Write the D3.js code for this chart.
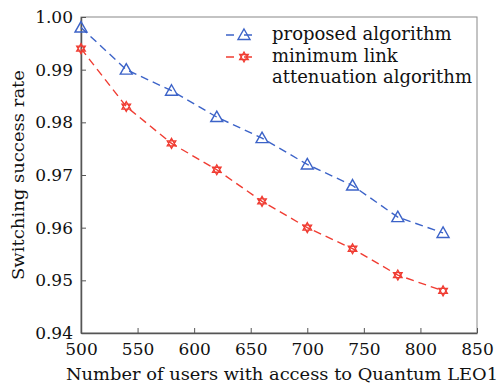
<!DOCTYPE html>
<html>
<head>
<meta charset="utf-8">
<script src="https://cdn.jsdelivr.net/npm/d3@7"></script>
<style>
  body { margin: 0; background: #fff; }
</style>
</head>
<body>
<svg id="chart"></svg>
<script>
var users = [500, 540, 580, 620, 660, 700, 740, 780, 820],
    proposed = [0.998, 0.990, 0.986, 0.981, 0.977, 0.972, 0.968, 0.962, 0.959],
    minLink = [0.994, 0.983, 0.976, 0.971, 0.965, 0.960, 0.956, 0.951, 0.948],
    xTicks = [500, 550, 600, 650, 700, 750, 800, 850],
    yTicks = [0.94, 0.95, 0.96, 0.97, 0.98, 0.99, 1.00]

var serif = "DejaVu Serif, serif"

var width = 500,
    height = 386,
    margin = {left: 81, top: 17, right: 23, bottom: 53},
    svg = d3.select("#chart")
      .attr("width", width)
      .attr("height", height)
      .attr("font-family", serif)

var x = d3.scaleLinear().domain([500, 850]).range([margin.left, width - margin.right]),
    y = d3.scaleLinear().domain([0.94, 1.00]).range([height - margin.bottom, margin.top])

var axisColor = "#555"

// frame
svg.append("rect")
  .attr("x", x(500)).attr("y", y(1))
  .attr("width", x(850) - x(500)).attr("height", y(0.94) - y(1))
  .attr("fill", "none").attr("stroke", "#888").attr("stroke-width", 1)

var xAxis = svg.append("g")
  .attr("transform", `translate(0,${y(0.94)})`)
  .call(d3.axisBottom(x).tickValues(xTicks).tickSizeInner(-5).tickSizeOuter(0).tickPadding(10))
xAxis.attr("font-family", serif).attr("font-size", 17)
xAxis.select(".domain").attr("stroke", axisColor).attr("stroke-width", 1.5)
xAxis.selectAll(".tick line").attr("stroke", axisColor)
xAxis.selectAll("text").attr("fill", "#111").attr("dy", "0.71em")

var yAxis = svg.append("g")
  .attr("transform", `translate(${x(500)},0)`)
  .call(d3.axisLeft(y).tickValues(yTicks).tickFormat(d3.format(".2f"))
          .tickSizeInner(-5).tickSizeOuter(0).tickPadding(8))
yAxis.attr("font-family", serif).attr("font-size", 17)
yAxis.select(".domain").attr("stroke", axisColor).attr("stroke-width", 1.5)
yAxis.selectAll(".tick line").attr("stroke", axisColor)
yAxis.selectAll("text").attr("fill", "#111")

svg.append("text")
  .attr("x", (x(500) + x(850)) / 2 + 3).attr("y", 380)
  .attr("text-anchor", "middle").attr("font-size", 17.5).attr("fill", "#111")
  .attr("textLength", 432).attr("lengthAdjust", "spacingAndGlyphs")
  .text("Number of users with access to Quantum LEO1")

svg.append("text")
  .attr("transform", `translate(24,${(y(0.94) + y(1)) / 2}) rotate(-90)`)
  .attr("text-anchor", "middle").attr("font-size", 17.5).attr("fill", "#111")
  .attr("textLength", 210).attr("lengthAdjust", "spacingAndGlyphs")
  .text("Switching success rate")

var series = [
  {name: "proposed", values: proposed, color: "#3c63c8", marker: "triangle"},
  {name: "minLink", values: minLink, color: "#f03c32", marker: "star"}
]

var line = d3.line().x((d) => x(d[0])).y((d) => y(d[1]))

function drawMarker(g, type, color) {
  if (type === "triangle") {
    g.append("path")
      .attr("d", "M0,-6L6,4.5L-6,4.5Z")
      .attr("fill", "none").attr("stroke", color).attr("stroke-width", 1.4)
  } else {
    g.append("path")
      .attr("d", "M0,-5L4.3,2.5L-4.3,2.5Z M0,5L4.3,-2.5L-4.3,-2.5Z")
      .attr("fill", "none").attr("stroke", color).attr("stroke-width", 1.3)
  }
}

series.forEach((s) => {
  var pts = users.map((u, i) => [u, s.values[i]])
  svg.append("path")
    .datum(pts)
    .attr("d", line)
    .attr("fill", "none")
    .attr("stroke", s.color)
    .attr("stroke-width", 1.4)
    .attr("stroke-dasharray", "8,5")
  svg.append("g").selectAll("g")
    .data(pts)
    .enter().append("g")
      .attr("transform", (d) => `translate(${x(d[0])},${y(d[1])})`)
      .each(function() { drawMarker(d3.select(this), s.marker, s.color) })
})

// legend
var legend = [
  {lines: ["proposed algorithm"], color: "#3c63c8", marker: "triangle", y: 35},
  {lines: ["minimum link", "attenuation algorithm"], color: "#f03c32", marker: "star", y: 57}
]
legend.forEach((l) => {
  svg.append("line")
    .attr("x1", 226).attr("x2", 262).attr("y1", l.y).attr("y2", l.y)
    .attr("stroke", l.color).attr("stroke-width", 1.4).attr("stroke-dasharray", "8,10")
  drawMarker(svg.append("g").attr("transform", `translate(244,${l.y})`), l.marker, l.color)
  l.lines.forEach((t, i) => {
    svg.append("text")
      .attr("x", 272).attr("y", l.y + 5 + i * 21)
      .attr("font-size", 18).attr("fill", "#111")
      .text(t)
  })
})
</script>
</body>
</html>
